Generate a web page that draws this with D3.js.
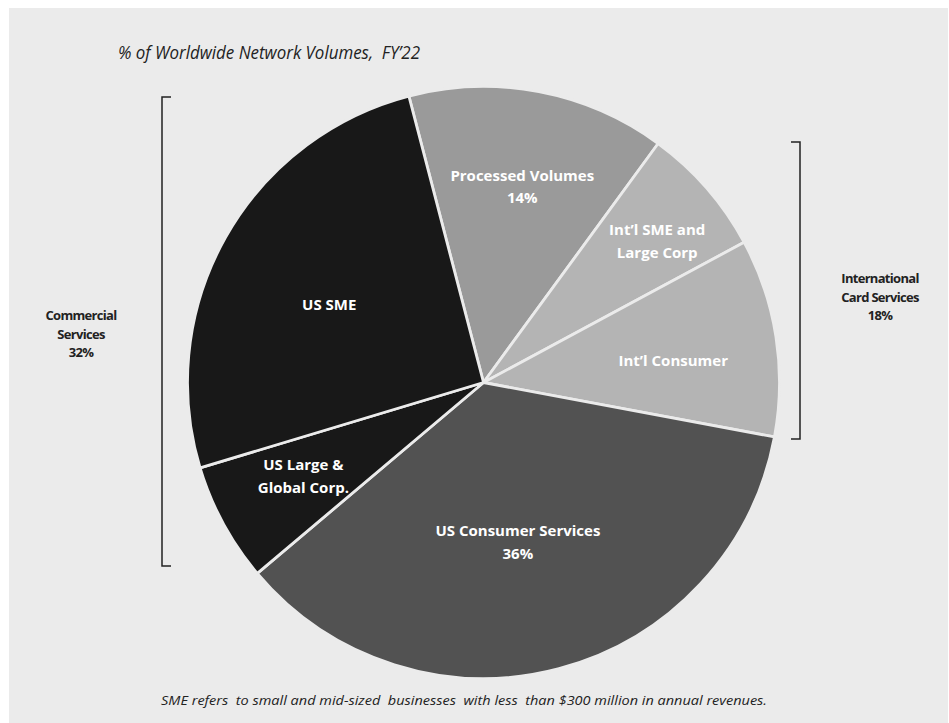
<!DOCTYPE html>
<html>
<head>
<meta charset="utf-8">
<script src="https://cdn.jsdelivr.net/npm/d3@7"></script>
<style>
body { margin: 0; background: #fff; }
</style>
</head>
<body>
<div id="chart"></div>
<script>
// Data
var segments = ['Processed Volumes', "Int'l SME and Large Corp", "Int'l Consumer", 'US Consumer Services', 'US Large & Global Corp.', 'US SME']
var shares = [14.1, 7.1, 10.8, 35.9, 6.5, 25.6]
var labelLines = [
  ['Processed Volumes', '14%'],
  ['Int\u2019l SME and', 'Large Corp'],
  ['Int\u2019l Consumer'],
  ['US Consumer Services', '36%'],
  ['US Large &', 'Global Corp.'],
  ['US SME']
]
var groupNames = [['Commercial', 'Services', '32%'], ['International', 'Card Services', '18%']]

var settings = {}
settings.width = 949
settings.height = 723
settings.cx = 483.5
settings.cy = 382.5
settings.radius = 296
settings.start_angle = -14.6 // degrees, first slice edge
settings.colors = ['#9a9a9a', '#b4b4b4', '#b4b4b4', '#525252', '#181818', '#181818']
settings.separator = '#ebebeb'
settings.label_font = 'Open Sans, sans-serif'
settings.label_size = 15
settings.line_height = 22.5
// label placement: distance from centre and angle nudge (degrees)
settings.label_place = [[200, 0.4], [224, 1.9], [191, 2.3], [163, 2.6], [203, 1.0], [173, -2.4]]

var svg = d3.select('#chart').append('svg')
  .attr('width', settings.width)
  .attr('height', settings.height)

// panel
svg.append('rect')
  .attr('x', 9).attr('y', 8)
  .attr('width', 939).attr('height', 715)
  .attr('fill', '#ebebeb')

// title
svg.append('text')
  .attr('x', 118).attr('y', 59)
  .attr('font-family', settings.label_font)
  .attr('font-style', 'italic')
  .attr('font-size', 19)
  .attr('fill', '#222')
  .attr('textLength', 302)
  .attr('lengthAdjust', 'spacingAndGlyphs')
  .attr('xml:space', 'preserve')
  .text('% of Worldwide Network Volumes,  FY\u201922')

// pie
var pie = d3.pie().sort(null).value(function(d){ return d })
  .startAngle(settings.start_angle * Math.PI / 180)
  .endAngle(settings.start_angle * Math.PI / 180 + 2 * Math.PI)
var arcs = pie(shares)
var arc = d3.arc().innerRadius(0).outerRadius(settings.radius)

var g = svg.append('g').attr('transform', 'translate(' + settings.cx + ',' + settings.cy + ')')

g.selectAll('path.slice')
  .data(arcs)
  .enter().append('path')
  .attr('class', 'slice')
  .attr('d', arc)
  .attr('fill', function(d, i){ return settings.colors[i] })
  .attr('stroke', settings.separator)
  .attr('stroke-width', 2.8)
  .attr('stroke-linejoin', 'round')

// slice labels
arcs.forEach(function(d, i){
  var place = settings.label_place[i]
  var a = (d.startAngle + d.endAngle) / 2 + place[1] * Math.PI / 180
  var x = Math.sin(a) * place[0]
  var y = -Math.cos(a) * place[0]
  var lines = labelLines[i]
  var y0 = y - (lines.length - 1) * settings.line_height / 2 + 5.5
  var t = g.append('text')
    .attr('text-anchor', 'middle')
    .attr('font-family', settings.label_font)
    .attr('font-weight', 'bold')
    .attr('font-size', settings.label_size)
    .attr('fill', '#fff')
  lines.forEach(function(line, j){
    t.append('tspan').attr('x', x).attr('y', y0 + j * settings.line_height).text(line)
  })
})

// brackets
function bracket(x, y1, y2, dir) {
  var p = d3.path()
  p.moveTo(x + dir * 9, y1)
  p.lineTo(x, y1)
  p.lineTo(x, y2)
  p.lineTo(x + dir * 9, y2)
  svg.append('path')
    .attr('d', p.toString())
    .attr('fill', 'none')
    .attr('stroke', '#222')
    .attr('stroke-width', 1.5)
}
bracket(162, 97, 566, 1)
bracket(800, 142, 439, -1)

function groupLabel(x, y, lines) {
  var t = svg.append('text')
    .attr('text-anchor', 'middle')
    .attr('font-family', settings.label_font)
    .attr('font-weight', 'bold')
    .attr('font-size', 13)
    .attr('letter-spacing', -0.7)
    .attr('fill', '#222')
  lines.forEach(function(line, j){
    t.append('tspan').attr('x', x).attr('y', y + j * 18.5).text(line)
  })
}
groupLabel(81, 320, groupNames[0])
groupLabel(880, 283, groupNames[1])

// footnote
svg.append('text')
  .attr('x', 161).attr('y', 705)
  .attr('font-family', settings.label_font)
  .attr('font-style', 'italic')
  .attr('font-size', 13)
  .attr('fill', '#222')
  .attr('textLength', 606)
  .attr('lengthAdjust', 'spacingAndGlyphs')
  .attr('xml:space', 'preserve')
  .text('SME refers  to small and mid-sized  businesses  with less  than $300 million in annual revenues.')
</script>
</body>
</html>
